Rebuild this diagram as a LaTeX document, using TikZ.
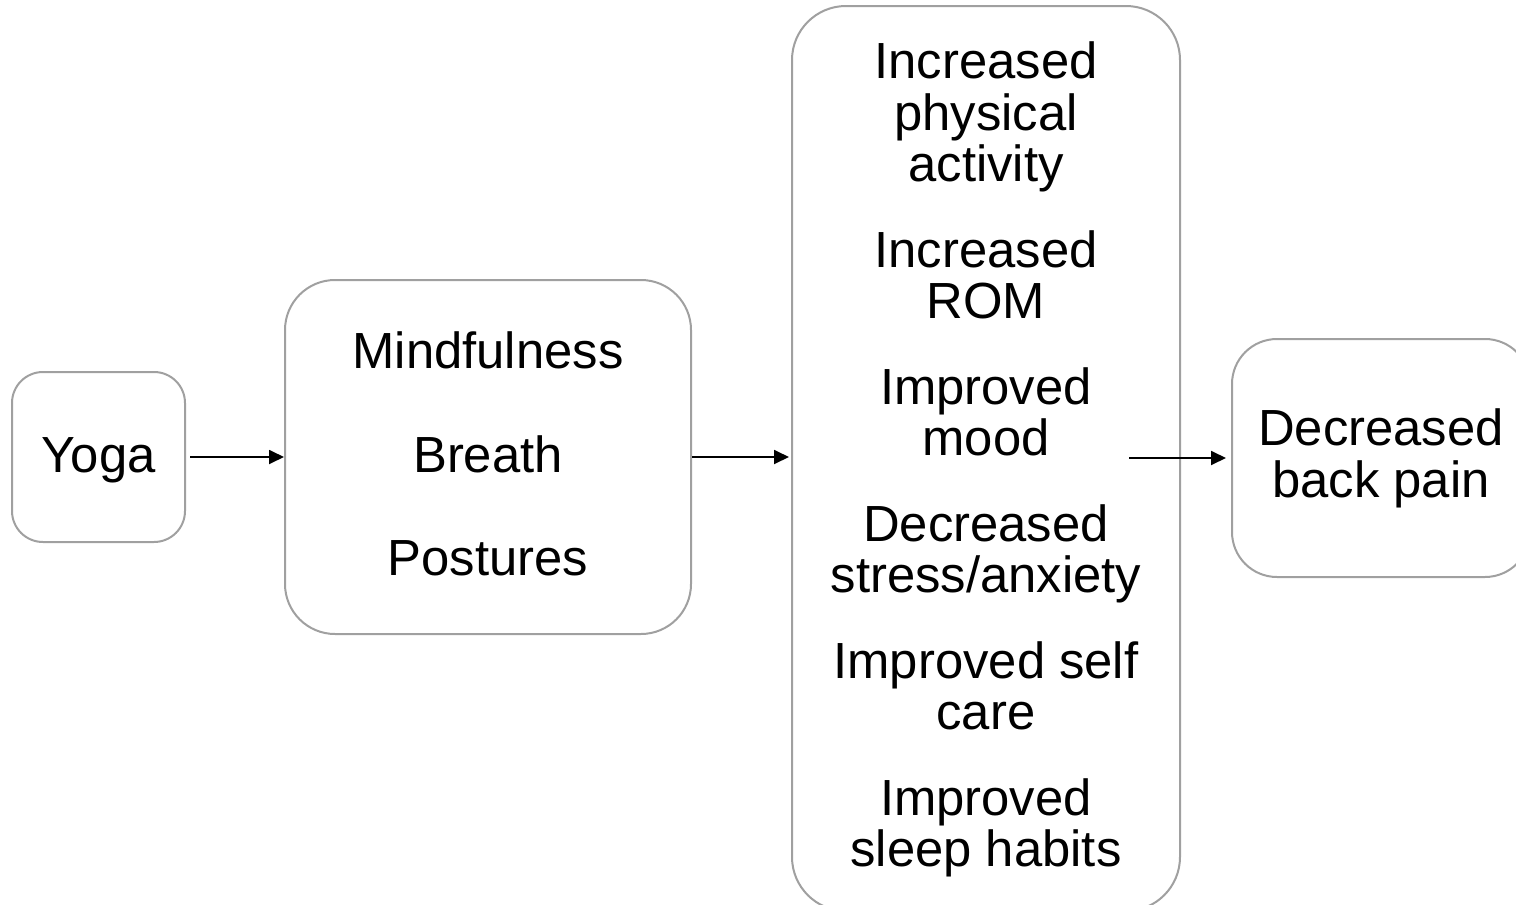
\documentclass[tikz,border=0pt]{standalone}
\usepackage{fontspec}
\setmainfont{Liberation Sans}
\usetikzlibrary{arrows.meta}
\definecolor{boxgray}{RGB}{160,160,160}
\begin{document}
\begin{tikzpicture}[x=1pt,y=-1pt,
  box/.style={draw=boxgray, line width=2pt, rounded corners=#1, inner sep=0pt, fill=white},
  lbl/.style={font=\fontsize{50.8}{51.5}\selectfont, align=center, inner sep=0pt, anchor=north},
  conn/.style={draw=black, line width=1.8pt, -{Triangle[length=15pt,width=14pt]}}]
\useasboundingbox (0,0) rectangle (1516,905);
% boxes
\node[box=31pt, minimum width=173pt, minimum height=170pt] (yoga) at (98.5,457) {};
\node[box=50pt, minimum width=406pt, minimum height=354pt] (middle) at (488,457) {};
\node[box=54pt, minimum width=388pt, minimum height=905pt] (big) at (986,458.5) {};
\node[box=45pt, minimum width=298pt, minimum height=238pt] (right) at (1381,458) {};
% texts
\node[lbl, anchor=base] (yogat) at (98.5,472) {Yoga};
\node[lbl] (middlet) at (488,331.6) {Mindfulness\\[52pt]Breath\\[52pt]Postures};
\node[lbl] (bigt) at (986,41.6) {Increased\\physical\\activity\\[34pt]Increased\\ROM\\[34pt]Improved\\mood\\[34pt]Decreased\\stress/anxiety\\[34pt]Improved self\\care\\[34pt]Improved\\sleep habits};
\node[lbl] (rightt) at (1381,408.6) {Decreased\\back pain};
% connectors
\coordinate (a3s) at (1129,458);
\draw[conn, shorten <=4pt] (yoga.east) -- (yoga.east -| middle.west);
\draw[conn, shorten >=2pt] (middle.east) -- (middle.east -| big.west);
\draw[conn, shorten >=5pt] (a3s) -- (a3s -| right.west);
\end{tikzpicture}
\end{document}
